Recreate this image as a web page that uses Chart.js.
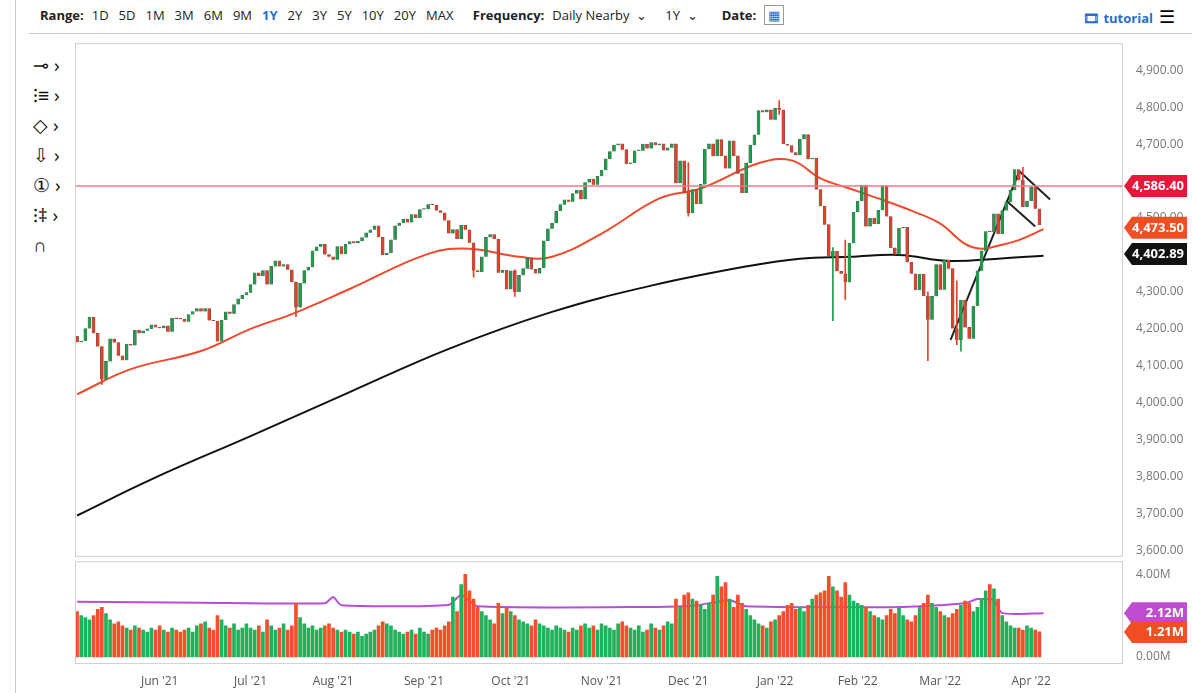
<!DOCTYPE html>
<html>
<head>
<meta charset="utf-8">
<script src="https://cdn.jsdelivr.net/npm/chart.js@4.4.1/dist/chart.umd.min.js"></script>
<style>
body{margin:0;width:1192px;height:693px;background:#fff;font-family:"Open Sans",sans-serif;overflow:hidden;position:relative}
#bar{position:absolute;left:40px;top:6px;font-size:13px;color:#222;white-space:nowrap}
#bar b{margin-right:8px}
#bar span{margin-right:10px}
.sel{color:#1f6fd0;font-weight:bold}
#sep{position:absolute;left:29px;right:0;top:33px;border-top:1px solid #ccc}
#lb{position:absolute;left:15px;top:0;bottom:0;border-left:1px solid #ccc}
#tools{position:absolute;left:33px;top:50px;font-size:19px;line-height:30px;color:#111}
#tut{position:absolute;left:1083px;top:9px;color:#1f6fd0;font-weight:bold;font-size:13px}
#ham{position:absolute;left:1159px;top:4px;font-size:18px}
.c{position:absolute;left:0}
</style>
</head>
<body>
<div id="lb"></div>
<div id="bar"><b>Range:</b><span>1D</span><span>5D</span><span>1M</span><span>3M</span><span>6M</span><span>9M</span><span class="sel">1Y</span><span>2Y</span><span>3Y</span><span>5Y</span><span>10Y</span><span>20Y</span><span>MAX</span>
<b style="margin-left:6px">Frequency:</b><span>Daily Nearby&nbsp; ⌄</span><span style="margin-left:8px">1Y&nbsp; ⌄</span><b style="margin-left:14px">Date:</b><span style="border:1px solid #999;padding:0 3px;color:#1f6fd0">▦</span></div>
<div id="sep"></div>
<div id="tools">⊸ ›<br>⁝≡ ›<br>◇ ›<br>⇩ ›<br>① ›<br>⁝‡ ›<br>∩</div>
<div id="tut">🎞 tutorial</div>
<div id="ham">☰</div>
<canvas id="price" class="c" style="top:30px" width="1192" height="539"></canvas>
<canvas id="vol" class="c" style="top:548px" width="1192" height="146"></canvas>
<script>
const closes = [
4164,4167,4201,4232,4188,4152,4063,4112,4173,4163,4127,4115,4159,4155,4197,4188,4195,4200,4211,4204,
4202,4208,4192,4229,4227,4226,4219,4239,4247,4255,4247,4255,4223,4221,4166,4224,4246,4241,4266,4281,4291,4298,
4320,4352,4343,4358,4320,4369,4384,4369,4374,4360,4327,4258,4323,4358,4367,4411,4422,4429,4401,4395,
4387,4423,4402,4429,4436,4432,4437,4447,4460,4468,4479,4448,4400,4405,4441,4479,4486,4497,4488,4509,4500,4523,
4524,4536,4535,4520,4514,4493,4458,4469,4443,4480,4468,4433,4358,4354,4395,4448,4455,4443,4352,4359,4307,
4357,4300,4345,4363,4391,4361,4350,4364,4438,4471,4486,4519,4536,4549,4544,4566,4575,4551,4596,4605,4590,4613,
4630,4660,4680,4697,4701,4685,4646,4649,4682,4682,4700,4688,4704,4697,4701,4683,4690,4701,4594,4655,4567,
4513,4577,4538,4591,4686,4701,4667,4712,4668,4634,4709,4668,4620,4568,4649,4697,4725,4791,4786,4793,4766,
4797,4793,4700,4696,4677,4670,4713,4726,4659,4662,4577,4532,4482,4397,4410,4356,4349,4326,4432,4516,
4546,4589,4477,4500,4484,4521,4587,4504,4419,4401,4472,4475,4380,4349,4305,4348,4289,4225,4288,
4374,4306,4387,4363,4201,4170,4278,4204,4173,4262,4357,4411,4463,4462,4511,4457,4520,4543,4575,4631,4602,4530,
4546,4583,4525,4481];
const firstOpen = 4180;
// notable long wicks: [index, low, high]
const wicks = [[6,4050,4140],[53,4233,4300],[96,4340,4420],[106,4288,4360],[148,4505,4650],[170,4780,4818],[183,4222,4420],[186,4280,4440],[206,4114,4300],[213,4157,4330],[214,4140,4250],[229,4590,4637]];
const volumes = [
2.2,2.0,1.9,1.8,2.0,2.3,2.4,2.1,1.8,1.6,1.7,1.5,1.4,1.3,1.5,1.4,1.3,1.2,1.4,1.3,
1.5,1.3,1.2,1.4,1.3,1.2,1.3,1.4,1.2,1.5,1.6,1.7,1.4,1.3,2.0,1.8,1.5,1.4,1.6,1.3,1.4,1.6,
1.4,1.3,1.5,1.2,1.8,1.5,1.3,1.4,1.6,1.3,1.5,2.6,1.9,1.6,1.4,1.5,1.3,1.4,1.5,1.6,
1.4,1.3,1.2,1.3,1.2,1.1,1.2,1.0,1.1,1.2,1.3,1.5,1.7,1.6,1.5,1.3,1.2,1.1,1.2,1.3,1.1,1.4,
1.2,1.1,1.3,1.4,1.3,1.5,1.7,2.9,2.2,3.5,4.0,3.2,2.8,2.4,2.2,2.0,1.8,1.6,2.6,2.1,2.4,
2.2,2.0,1.8,1.7,1.6,1.5,1.8,1.6,1.5,1.4,1.3,1.5,1.4,1.3,1.2,1.4,1.3,1.5,1.6,1.4,1.5,1.3,
1.6,1.5,1.4,1.3,1.6,1.7,1.5,1.4,1.3,1.5,1.2,1.3,1.6,1.4,1.3,1.5,1.7,1.6,2.8,2.4,3.0,
3.1,2.8,2.7,2.5,2.3,2.6,3.0,3.9,3.4,3.6,2.8,2.4,3.0,2.6,2.3,2.0,1.8,1.6,1.5,1.4,1.7,
1.8,2.0,2.2,2.5,2.6,2.3,2.4,2.2,2.5,2.8,3.0,3.1,3.2,3.9,3.4,3.2,2.9,3.6,3.0,2.7,
2.6,2.5,2.4,2.2,2.0,1.9,1.8,2.0,2.3,2.1,2.4,2.0,1.8,1.7,2.0,2.4,2.6,3.0,2.6,
2.4,2.2,2.0,1.9,2.1,2.3,2.5,2.7,2.6,2.2,2.4,2.8,3.2,3.5,3.3,2.8,2.0,1.7,1.5,1.4,1.4,1.3,
1.5,1.4,1.3,1.21];
const ma50 = [[0,4023],[13,4091],[30,4140],[42,4200],[52,4240],[66,4308],[85,4403],[95,4417],[107,4395],[115,4395],[127,4458],[141,4553],[151,4580],[165,4648],[173,4656],[180,4607],[187,4580],[194,4553],[202,4520],[209,4485],[215,4430],[219,4417],[223,4425],[228,4440],[234,4470]];
const ma200 = [[0,3695],[18,3793],[42,3910],[66,4029],[90,4146],[115,4246],[139,4317],[163,4371],[175,4390],[187,4395],[199,4400],[211,4384],[223,4390],[234,4398]];
const volAvg = [[0,2.67],[30,2.62],[60,2.6],[62,2.9],[64,2.5],[90,2.52],[93,3.0],[97,2.45],[140,2.42],[150,2.5],[158,2.75],[162,2.45],[200,2.42],[215,2.6],[218,2.8],[222,2.75],[224,2.12],[234,2.12]];
const trendLines = [[[211.5,4170],[228,4623]],[[225,4547],[232,4477]],[[228,4628],[235.6,4550]]];
const hLine = 4586.40;
const monthTicks = [[20,"Jun '21"],[42,"Jul '21"],[62,"Aug '21"],[84,"Sep '21"],[105,"Oct '21"],[127,"Nov '21"],[148,"Dec '21"],[169,"Jan '22"],[189,"Feb '22"],[209,"Mar '22"],[231,"Apr '22"]];
const priceBadges = [[4586.40,'4,586.40','#e8173a'],[4473.50,'4,473.50','#f04e23'],[4402.89,'4,402.89','#111111']];
const volBadges = [[2.12,'2.12M','#c04ccf'],[1.21,'1.21M','#f04e23']];

const GREEN='#1e9e4a', RED='#e0412a';
const opens = closes.map((c,i)=> i===0 ? firstOpen : closes[i-1]);
const up = closes.map((c,i)=> c>=opens[i]);
const XMIN=-0.5, XMAX=253;
const font={family:'"Open Sans", sans-serif',size:12};

function badgePlugin(badges){
  return {id:'badges',afterDraw(ch){
    const c=ch.ctx, s=ch.scales.y, x0=ch.chartArea.right+2;
    c.save();c.strokeStyle='#d0d0d0';c.lineWidth=1;
    c.strokeRect(ch.chartArea.left+0.5,ch.chartArea.top+0.5,ch.chartArea.right-ch.chartArea.left,ch.chartArea.bottom-ch.chartArea.top);
    badges.forEach(([v,t,col])=>{
      const y=s.getPixelForValue(v);
      c.fillStyle=col;c.beginPath();
      c.moveTo(x0,y);c.lineTo(x0+8,y-11);c.lineTo(x0+63,y-11);c.lineTo(x0+63,y+11);c.lineTo(x0+8,y+11);c.closePath();c.fill();
      c.fillStyle='#fff';c.font='bold 13px "Open Sans"';c.textAlign='right';c.textBaseline='middle';
      c.fillText(t,x0+60,y);
    });
    c.restore();
  }};
}
const fitRight = s=>{s.width=70;};

const bodies = closes.map((c,i)=>({x:i,y:[opens[i],c]}));
const wickData = wicks.map(w=>({x:w[0],y:[w[1],w[2]]}));
const lineDs=(pts,col,w)=>({type:'line',data:pts.map(p=>({x:p[0],y:p[1]})),borderColor:col,borderWidth:w,pointRadius:0,tension:0.4,fill:false});

new Chart(document.getElementById('price'),{
  data:{datasets:[
    {type:'line',data:[{x:XMIN,y:hLine},{x:XMAX,y:hLine}],borderColor:'#f27a88',borderWidth:1.5,pointRadius:0},
    {type:'bar',data:wickData,backgroundColor:wicks.map(w=>up[w[0]]?GREEN:RED),barThickness:1,grouped:false},
    {type:'bar',data:bodies,backgroundColor:up.map(u=>u?GREEN:RED),borderColor:'#555',borderWidth:0.5,barThickness:3,grouped:false,minBarLength:1},
    lineDs(ma50,'#ee4a2a',2),
    lineDs(ma200,'#111',2),
    ...trendLines.map(t=>({...lineDs(t,'#222',2),tension:0}))
  ]},
  options:{responsive:false,animation:false,layout:{padding:{left:75,top:5}},
    plugins:{legend:{display:false},tooltip:{enabled:false}},
    scales:{
      x:{type:'linear',min:XMIN,max:XMAX,display:false,offset:false},
      y:{position:'right',min:3586,max:4973,grid:{display:false},border:{display:false},afterFit:fitRight,
        afterBuildTicks:s=>{s.ticks=[];for(let v=3600;v<=4900;v+=100)s.ticks.push({value:v});},
        ticks:{font,color:'#777',padding:6,callback:v=>v.toLocaleString('en-US',{minimumFractionDigits:2})}}
    }},
  plugins:[badgePlugin(priceBadges)]
});

new Chart(document.getElementById('vol'),{
  data:{datasets:[
    {type:'bar',data:volumes.map((v,i)=>({x:i,y:v})),backgroundColor:up.map(u=>u?'#20b25a':'#f2502c'),barThickness:3},
    {...lineDs(volAvg,'#b64fd6',2),tension:0.2}
  ]},
  options:{responsive:false,animation:false,layout:{padding:{left:75,top:2}},
    plugins:{legend:{display:false},tooltip:{enabled:false}},
    scales:{
      x:{type:'linear',min:XMIN,max:XMAX,offset:false,grid:{display:false},border:{display:false},
        afterBuildTicks:s=>{s.ticks=monthTicks.map(m=>({value:m[0]}));},
        afterFit:s=>{s.height=31;},
        ticks:{font,color:'#555',autoSkip:false,maxRotation:0,callback:v=>{const m=monthTicks.find(t=>t[0]===v);return m?m[1]:'';}}},
      y:{position:'right',min:-0.3,max:4.64,grid:{display:false},border:{display:false},afterFit:fitRight,
        afterBuildTicks:s=>{s.ticks=[{value:0},{value:4}];},
        ticks:{font,color:'#777',padding:6,callback:v=>v.toFixed(2)+'M'}}
    }},
  plugins:[badgePlugin(volBadges)]
});
</script>
</body>
</html>
